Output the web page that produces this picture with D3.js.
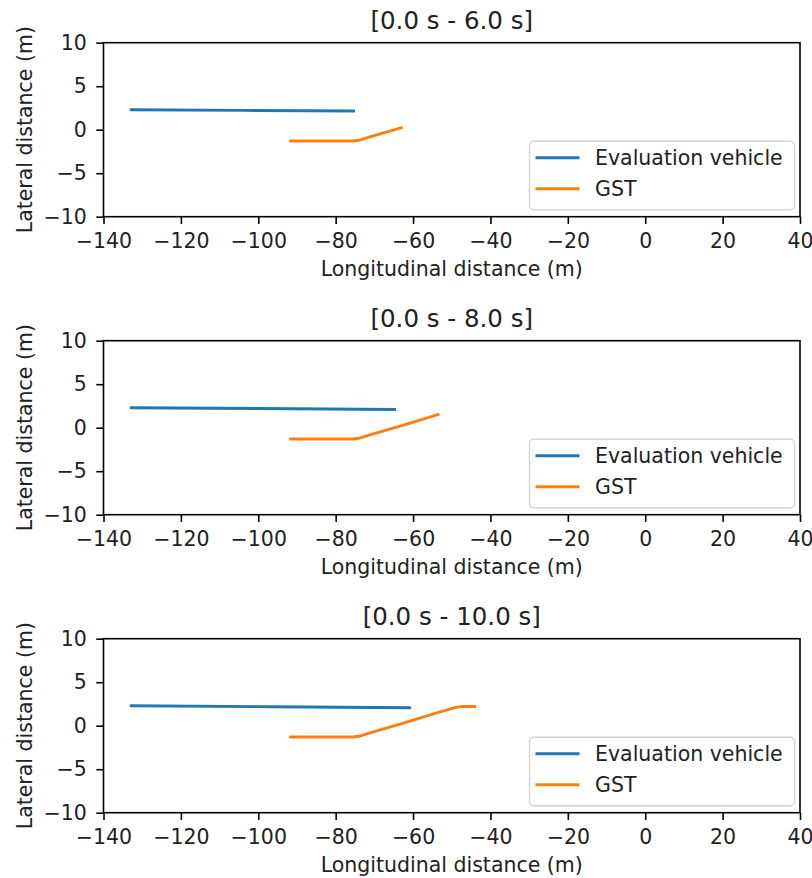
<!DOCTYPE html>
<html>
<meta charset=utf-8>
<head>
  <style>
    body { margin: 0; background: #fff; }
    text { font-family: "DejaVu Sans", sans-serif; }
  </style>
</head>
<body>
<svg id="canvas" width="812" height="878"></svg>
<script src="https://d3js.org/d3.v7.min.js"></script>
<script>

var titles = ['[0.0 s - 6.0 s]', '[0.0 s - 8.0 s]', '[0.0 s - 10.0 s]']
var seriesNames = ['Evaluation vehicle', 'GST']
var xTicks = [-140, -120, -100, -80, -60, -40, -20, 0, 20, 40]
var yTicks = [-10, -5, 0, 5, 10]

// evaluation vehicle tracks [x, y]
var evalTrack6 = [[-133.2, 2.3], [-104, 2.22], [-75, 2.15]]
var evalTrack8 = [[-133.2, 2.3], [-100, 2.2], [-64.4, 2.1]]
var evalTrack10 = [[-133.2, 2.3], [-97, 2.18], [-60.5, 2.07]]

// GST tracks [x, y]
var gstTrack6 = [[-92, -1.3], [-75.5, -1.3], [-74, -1.22], [-72, -0.95], [-62.7, 0.27]]
var gstTrack8 = [[-92, -1.3], [-75.5, -1.3], [-74, -1.22], [-72, -0.95], [-62.7, 0.27], [-53.2, 1.55]]
var gstTrack10 = [[-92, -1.3], [-75.5, -1.3], [-74, -1.22], [-72, -0.95], [-62.7, 0.27],
                  [-53.2, 1.55], [-49, 2.1], [-47.5, 2.2], [-43.7, 2.2]]

var panels = [
  {title: titles[0], tracks: [evalTrack6, gstTrack6]},
  {title: titles[1], tracks: [evalTrack8, gstTrack8]},
  {title: titles[2], tracks: [evalTrack10, gstTrack10]}
]

var colors = ['#1f77b4', '#ff7f0e']
var left = 103.5, right = 800, plotH = 174, tops = [42.7, 340.7, 638.7]
var fs = 20.5

var svg = d3.select('#canvas')
var x = d3.scaleLinear().domain([-140, 40]).range([left, right])
var minus = function(d) { return String(d).replace('-', '\u2212') }

panels.forEach(function(p, i) {
  var top = tops[i]
  var y = d3.scaleLinear().domain([-10, 10]).range([top + plotH, top])
  var g = svg.append('g')

  var line = d3.line()
    .x(function(d) { return x(d[0]) })
    .y(function(d) { return y(d[1]) })

  g.selectAll('path.track')
    .data(p.tracks)
    .enter()
    .append('path')
    .attr('class', 'track')
    .attr('d', line)
    .attr('fill', 'none')
    .attr('stroke', function(d, k) { return colors[k] })
    .attr('stroke-width', 2.9)
    .attr('stroke-linejoin', 'round')

  // axes
  var xAxis = g.append('g')
    .attr('transform', 'translate(0,' + (top + plotH) + ')')
    .call(d3.axisBottom(x).tickValues(xTicks).tickSize(7.2).tickPadding(9.5).tickFormat(minus))
  var yAxis = g.append('g')
    .attr('transform', 'translate(' + left + ',0)')
    .call(d3.axisLeft(y).tickValues(yTicks).tickSize(7.2).tickPadding(9.5).tickFormat(minus))
  ;[xAxis, yAxis].forEach(function(a) {
    a.select('.domain').remove()
    a.selectAll('line').attr('stroke', '#000').attr('stroke-width', 1.6)
    a.selectAll('text').attr('font-size', fs).attr('fill', '#222')
      .attr('font-family', '"DejaVu Sans", sans-serif')
  })

  g.append('rect')
    .attr('x', left).attr('y', top)
    .attr('width', right - left).attr('height', plotH)
    .attr('fill', 'none').attr('stroke', '#000').attr('stroke-width', 1.6)

  g.append('text')
    .attr('x', (left + right) / 2).attr('y', top - 13.5)
    .attr('text-anchor', 'middle').attr('font-size', 24.5).attr('fill', '#222')
    .text(p.title)

  g.append('text')
    .attr('x', (left + right) / 2).attr('y', top + plotH + 59.5)
    .attr('text-anchor', 'middle').attr('font-size', fs).attr('fill', '#222')
    .text('Longitudinal distance (m)')

  g.append('text')
    .attr('transform', 'translate(31.5,' + (top + plotH / 2) + ') rotate(-90)')
    .attr('text-anchor', 'middle').attr('font-size', fs).attr('fill', '#222')
    .text('Lateral distance (m)')

  // legend
  var lg = g.append('g').attr('transform', 'translate(529.5,' + (top + 98.5) + ')')
  lg.append('rect')
    .attr('width', 265).attr('height', 68.5).attr('rx', 4)
    .attr('fill', '#fff').attr('fill-opacity', 0.8)
    .attr('stroke', '#d5d5d5').attr('stroke-width', 1.4)
  lg.selectAll('g.item')
    .data(seriesNames)
    .enter()
    .append('g')
    .attr('class', 'item')
    .each(function(name, k) {
      var it = d3.select(this)
      var cy = 16.5 + k * 31
      it.append('line')
        .attr('x1', 6).attr('x2', 50).attr('y1', cy).attr('y2', cy)
        .attr('stroke', colors[k]).attr('stroke-width', 2.9)
      it.append('text')
        .attr('x', 65.5).attr('y', cy + 7.5).attr('font-size', fs).attr('fill', '#222')
        .text(name)
    })
})

</script>
</body>
</html>
